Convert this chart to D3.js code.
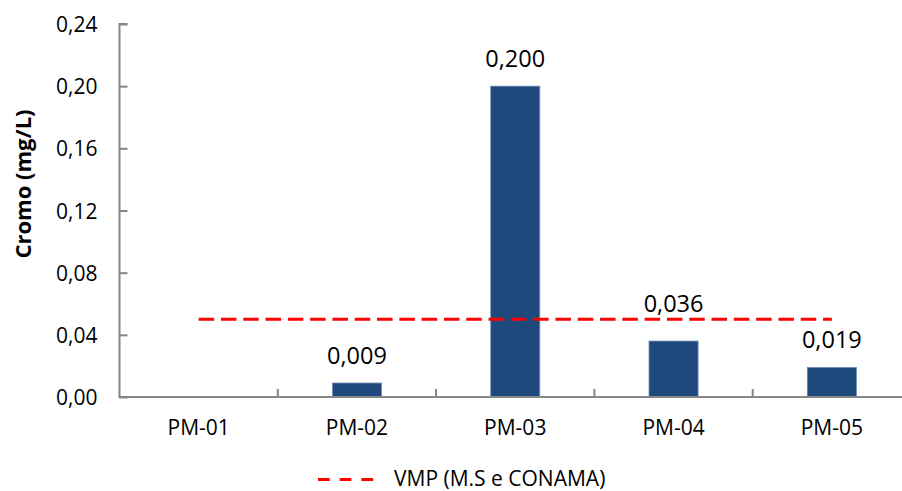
<!DOCTYPE html>
<html>
<head>
<meta charset="utf-8">
<script src="https://cdn.jsdelivr.net/npm/d3@7"></script>
<style>
  html, body { margin: 0; padding: 0; background: #fff; }
  svg text { font-family: "Open Sans", "Liberation Sans", sans-serif; fill: #000; }
</style>
</head>
<body>
<svg id="chart" width="902" height="491"></svg>
<script>
// Chromium concentration per monitoring well (mg/L); PM-01 has no result
const categories = ["PM-01", "PM-02", "PM-03", "PM-04", "PM-05"];
const cromo = [null, 0.009, 0.200, 0.036, 0.019];
const valueLabels = ["", "0,009", "0,200", "0,036", "0,019"];
// Maximum permitted value (M.S e CONAMA)
const vmp = 0.05;
const yTicks = [0, 0.04, 0.08, 0.12, 0.16, 0.20, 0.24];
const yTickLabels = ["0,00", "0,04", "0,08", "0,12", "0,16", "0,20", "0,24"];
const legendLabel = "VMP (M.S e CONAMA)";
const yTitle = "Cromo (mg/L)";

const svg = d3.select("#chart");
const axisColor = "#868686";
const barColor = "#1f497d";

const plot = { left: 119.5, right: 911, top: 24, bottom: 397 };

const x = d3.scaleBand()
  .domain(categories)
  .range([plot.left, plot.right])
  .paddingInner(0.69)
  .paddingOuter(0.345);

const y = d3.scaleLinear().domain([0, 0.24]).range([plot.bottom, plot.top]);

// Category boundaries (ticks sit between bands)
const boundaries = d3.range(categories.length + 1).map(i => plot.left + i * (plot.right - plot.left) / categories.length);

// Bars
svg.append("g").selectAll("rect")
  .data(categories.map((c, i) => ({ c, v: cromo[i] })).filter(d => d.v != null))
  .join("rect")
  .attr("x", d => x(d.c))
  .attr("y", d => y(d.v))
  .attr("width", x.bandwidth())
  .attr("height", d => y(0) - y(d.v))
  .attr("fill", barColor)
  .attr("stroke", "#6d8cb8")
  .attr("stroke-width", 0.8);

// Y axis
const yAxis = d3.axisLeft(y).tickValues(yTicks).tickSize(-8).tickPadding(22)
  .tickFormat((d, i) => yTickLabels[i]);
const gy = svg.append("g").attr("transform", `translate(${plot.left},0)`).call(yAxis);
gy.select(".domain").attr("stroke", axisColor).attr("stroke-width", 2)
  .attr("d", `M8,${plot.top}H0V${plot.bottom}`);
gy.selectAll(".tick line").attr("stroke", axisColor).attr("stroke-width", 2);
gy.selectAll(".tick text").attr("font-size", 21).attr("dy", "0.36em")
  .attr("font-family", "'Open Sans', sans-serif").attr("fill", "#000");

// X axis line and between-category ticks
svg.append("line")
  .attr("x1", plot.left - 1).attr("x2", plot.right)
  .attr("y1", y(0)).attr("y2", y(0))
  .attr("stroke", axisColor).attr("stroke-width", 2);
svg.append("g").selectAll("line")
  .data(boundaries.slice(1))
  .join("line")
  .attr("x1", d => d).attr("x2", d => d)
  .attr("y1", y(0)).attr("y2", y(0) - 8)
  .attr("stroke", axisColor).attr("stroke-width", 2);

// Category labels
svg.append("g").selectAll("text")
  .data(categories)
  .join("text")
  .attr("x", d => x(d) + x.bandwidth() / 2)
  .attr("y", plot.bottom + 38)
  .attr("text-anchor", "middle")
  .attr("font-size", 21)
  .text(d => d);

// VMP reference line, from first to last category centre
const lineY = y(vmp);
svg.append("line")
  .attr("x1", x(categories[0]) + x.bandwidth() / 2)
  .attr("x2", x(categories[categories.length - 1]) + x.bandwidth() / 2)
  .attr("y1", lineY).attr("y2", lineY)
  .attr("stroke", "#ff0000").attr("stroke-width", 3)
  .attr("stroke-dasharray", "15.5,6.8");

// Value labels above bars; a label that would cross the VMP line is lifted above it
svg.append("g").selectAll("text")
  .data(categories.map((c, i) => ({ c, v: cromo[i], t: valueLabels[i] })).filter(d => d.v != null))
  .join("text")
  .attr("x", d => x(d.c) + x.bandwidth() / 2)
  .attr("y", d => {
    let base = y(d.v) - 19;
    if (base > lineY - 2 && base - 17 < lineY + 2) base = lineY - 7.6;
    return base;
  })
  .attr("text-anchor", "middle")
  .attr("font-size", 23.5)
  .text(d => d.t);

// Y axis title
svg.append("text")
  .attr("transform", `translate(31,184) rotate(-90)`)
  .attr("text-anchor", "middle")
  .attr("font-size", 22)
  .attr("font-weight", "bold")
  .text(yTitle);

// Legend
const lg = svg.append("g");
lg.append("line")
  .attr("x1", 318).attr("x2", 376)
  .attr("y1", 479.5).attr("y2", 479.5)
  .attr("stroke", "#ff0000").attr("stroke-width", 3)
  .attr("stroke-dasharray", "11.7,10");
lg.append("text")
  .attr("x", 394).attr("y", 486)
  .attr("font-size", 21)
  .text(legendLabel);
</script>
</body>
</html>
